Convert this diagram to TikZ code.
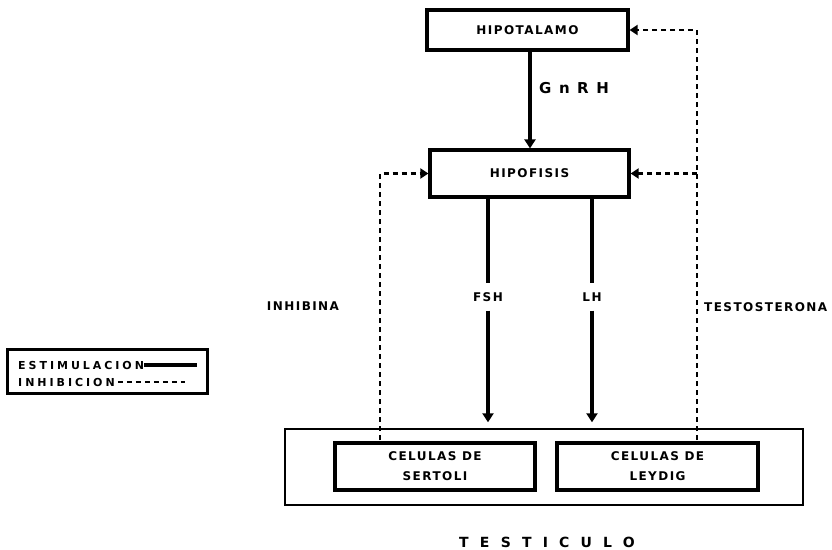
\documentclass[tikz,border=0pt]{standalone}
\usepackage{fontspec}
\setmainfont{DejaVu Sans}
\newfontfamily\lblfont[LetterSpace=12]{DejaVu Sans}
\newfontfamily\keyfont[LetterSpace=27]{DejaVu Sans}
\newfontfamily\bigfont[LetterSpace=80]{DejaVu Sans}
\newfontfamily\hormfont[LetterSpace=50]{DejaVu Sans}
\usetikzlibrary{arrows.meta}

\tikzset{
  organ/.style={draw,line width=3.2pt,minimum width=200pt,minimum height=44pt,align=center,font=\lblfont\bfseries\fontsize{12}{20}\selectfont,inner sep=0pt},
  lbl/.style={font=\lblfont\bfseries\fontsize{12}{12}\selectfont,inner sep=0pt},
  estim/.style={line width=4.5pt,-{Triangle[width=11pt,length=9pt]}},
  inhib/.style={line width=2.2pt,dash pattern=on 5pt off 4pt,-{Triangle[width=10pt,length=8pt]}}
}

\begin{document}
\begin{tikzpicture}[x=1pt,y=-1pt]
\useasboundingbox (0,0) rectangle (832,549);
% glandulas
\node[organ,minimum width=201pt,minimum height=40pt] (hipotalamo) at (527.5,30) {HIPOTALAMO};
\node[organ,minimum width=199pt,minimum height=47pt] (hipofisis) at (529.5,173.5) {HIPOFISIS};
\node[draw,line width=1.4pt,minimum width=518pt,minimum height=76pt] (testiculo) at (544,467) {};
\node[organ,minimum height=47pt] (sertoli) at (435,466.5) {CELULAS DE\\SERTOLI};
\node[organ,minimum width=201pt,minimum height=47pt] (leydig) at (657.5,466.5) {CELULAS DE\\LEYDIG};
\node[font=\bigfont\bfseries\fontsize{14}{14}\selectfont,inner sep=0pt] (testlbl) at (547,542) {TESTICULO};

% hormonas
\node[font=\hormfont\bfseries\fontsize{15}{16}\selectfont,anchor=west,inner sep=0pt] (gnrh) at (539,88) {GnRH};
\node[lbl,minimum height=27pt] (fsh) at (488,297) {FSH};
\node[lbl,minimum height=27pt] (lh) at (592,297) {LH};
\node[lbl] (inhibina) at (303,306) {INHIBINA};
\node[lbl,anchor=west] (testost) at (704,307) {TESTOSTERONA};

\draw[estim] (hipotalamo.south -| 530,0) -- (hipofisis.north -| 530,0);
\draw[line width=4.5pt] (hipofisis.south -| fsh) -- (fsh.north);
\draw[estim,shorten >=6pt] (fsh.south) -- (fsh |- testiculo.north);
\draw[line width=4.5pt] (hipofisis.south -| lh) -- (lh.north);
\draw[estim,shorten >=6pt] (lh.south) -- (lh |- testiculo.north);

% retroalimentacion
\coordinate (inhb) at (380,440);
\coordinate (tstb) at (697,440);
\draw[inhib] (inhb) |- (hipofisis.west);
\draw[inhib] (tstb) |- (hipotalamo.east);
\draw[inhib] (tstb |- hipofisis.east) -- (hipofisis.east);

% leyenda
\node[draw,line width=3pt,minimum width=200pt,minimum height=44pt] (leyenda) at (107,371) {};
\node[font=\keyfont\bfseries\fontsize{11}{12}\selectfont,inner sep=0pt,anchor=west] (estlbl) at (18,365) {ESTIMULACION};
\node[font=\keyfont\bfseries\fontsize{11}{12}\selectfont,inner sep=0pt,anchor=west] (inhlbl) at (18,382) {INHIBICION};
\draw[line width=4pt] (estlbl.east) -- (197,0 |- estlbl.east);
\draw[line width=2pt,dash pattern=on 5pt off 4pt] (inhlbl.east) ++(3,0) -- (185,0 |- inhlbl.east);
\end{tikzpicture}
\end{document}
